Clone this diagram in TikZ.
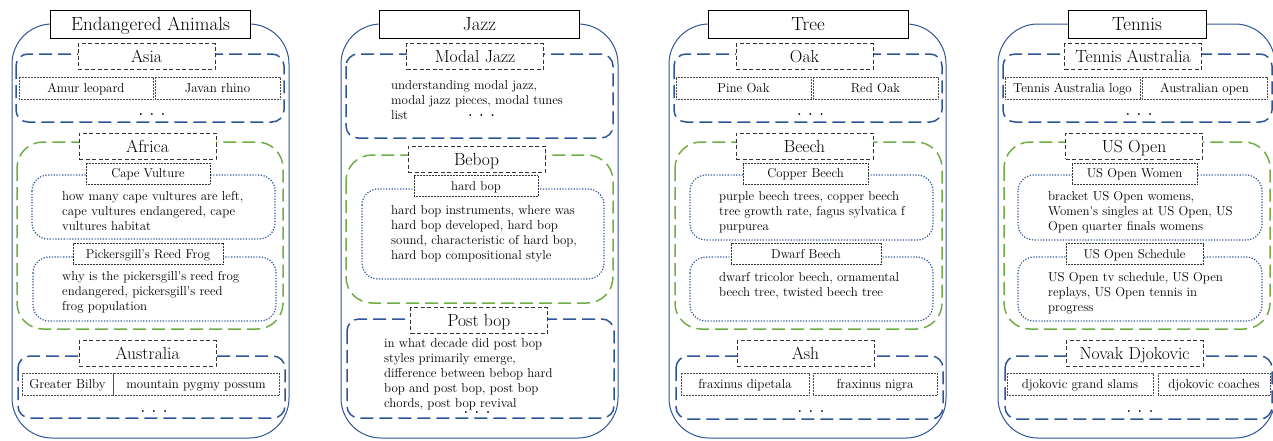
\documentclass[tikz,border=0pt]{standalone}
\usetikzlibrary{positioning}
\definecolor{qblue}{HTML}{2F5597}
\definecolor{qgreen}{HTML}{70AD47}
\newcommand{\moredots}{\textbf{.}\hspace{7pt}\textbf{.}\hspace{7pt}\textbf{.}}

\begin{document}
\begin{tikzpicture}[x=1pt,y=-1pt,
outer/.style={draw=qblue,line width=1pt,rounded corners=40pt},
topic/.style={draw,fill=white,line width=0.9pt,minimum width=200pt,minimum height=28pt,text height=13pt,text depth=0pt,font=\fontsize{19}{22}\selectfont},
grp/.style={draw=qblue,line width=1.5pt,dash pattern=on 13pt off 6pt,rounded corners=12pt},
grpg/.style={draw=qgreen,line width=1.5pt,dash pattern=on 13pt off 6pt,rounded corners=26pt},
lbl/.style={draw=black!80,fill=white,line width=0.8pt,dash pattern=on 4pt off 2.5pt,minimum width=137pt,minimum height=26pt,text height=12pt,text depth=0pt,font=\fontsize{17.5}{20}\selectfont},
sub/.style={draw=qblue,line width=1.2pt,dash pattern=on 1.2pt off 1.6pt,rounded corners=16pt},
sublbl/.style={draw=black!80,fill=white,line width=0.6pt,dash pattern=on 0.6pt off 0.9pt,minimum height=21pt,text height=8.8pt,text depth=0pt,font=\fontsize{12.8}{15}\selectfont},
item/.style={draw=black!70,line width=0.6pt,dash pattern=on 0.6pt off 0.9pt,minimum height=22pt,text height=8.9pt,text depth=0pt,inner sep=0pt,font=\fontsize{13}{15}\selectfont},
txt/.style={anchor=north west,inner sep=0pt,align=left,font=\fontsize{12.9}{15}\selectfont},
more/.style={inner sep=0pt,font=\fontsize{13}{15}\selectfont}]
\useasboundingbox (0,0) rectangle (1273,440);
\clip (0,0) rectangle (1273,440);

% Endangered Animals
\begin{scope}[shift={(12,0)}]
\draw[outer] (0,24) rectangle (277,438);
\node[topic] (animals) at (138.5,24) {Endangered Animals};
\draw[grp] (4,54) rectangle (272,122);
\node[lbl] (asia) at (134.5,56.5) {Asia};
\node[item,minimum width=134pt] (amur) at (74,88) {Amur leopard};
\node[item,minimum width=125pt] (javan) at (205.5,88) {Javan rhino};
\node[more] (asiadots) at (140,115) {\moredots};
\draw[grpg] (5,142) rectangle (271,329);
\node[lbl] (africa) at (135.5,146) {Africa};
\draw[sub] (20,175) rectangle (263,239);
\node[sublbl,minimum width=124pt] (vulture) at (136,173.5) {Cape Vulture};
\node[txt] (vulturetxt) at (50,191) {how many cape vultures are left,\\cape vultures endangered, cape\\vultures habitat};
\draw[sub] (21,257) rectangle (264,321);
\node[sublbl,minimum width=150pt] (frog) at (136,254) {Pickersgill's Reed Frog};
\node[txt] (frogtxt) at (50,271) {why is the pickersgill\textquotesingle s reed frog\\endangered, pickersgill\textquotesingle s reed\\frog population};
\draw[grp] (6,356) rectangle (273,418);
\node[lbl] (austr) at (135.5,353.5) {Australia};
\node[item,minimum width=91pt] (bilby) at (55.5,384) {Greater Bilby};
\node[item,minimum width=166pt] (possum) at (184,384) {mountain pygmy possum};
\node[more] (austrdots) at (142,412) {\moredots};
\end{scope}

% Jazz
\begin{scope}[shift={(341,0)}]
\draw[outer] (0,24) rectangle (277,438);
\node[topic] (jazz) at (138.5,24) {Jazz};
\draw[grp] (5,54) rectangle (272,138);
\node[lbl] (modal) at (134,56.5) {Modal Jazz};
\node[txt] (modaltxt) at (50,80) {understanding modal jazz,\\modal jazz pieces, modal tunes\\list};
\node[more] (modaldots) at (140.5,116) {\moredots};
\draw[grpg] (5,155) rectangle (272,303);
\node[lbl] (bebop) at (135.5,159) {Bebop};
\draw[sub] (21,189) rectangle (263,279);
\node[sublbl,minimum width=124pt] (hardbop) at (135,186) {hard bop};
\node[txt] (hardboptxt) at (50,205) {hard bop instruments, where was\\hard bop developed, hard bop\\sound, characteristic of hard bop,\\hard bop compositional style};
\draw[grp] (6,319) rectangle (273,418);
\node[lbl] (postbop) at (138,320.5) {Post bop};
\node[txt] (postboptxt) at (43,338) {in what decade did post bop\\styles primarily emerge,\\difference between bebop hard\\bop and post bop, post bop\\chords, post bop revival};
\node[more] (postbopdots) at (136,413) {\moredots};
\end{scope}

% Tree
\begin{scope}[shift={(669,0)}]
\draw[outer] (0,24) rectangle (277,438);
\node[topic] (tree) at (139,24) {Tree};
\draw[grp] (5,54) rectangle (273,122);
\node[lbl] (oak) at (135.5,56.5) {Oak};
\node[item,minimum width=135pt] (pine) at (74.5,88) {Pine Oak};
\node[item,minimum width=125pt] (red) at (206.5,88) {Red Oak};
\node[more] (oakdots) at (141.5,115) {\moredots};
\draw[grpg] (6,142) rectangle (273,329);
\node[lbl] (beech) at (135.5,146) {Beech};
\draw[sub] (21,175) rectangle (264,240);
\node[sublbl,minimum width=125pt] (copper) at (136.5,173.5) {Copper Beech};
\node[txt] (coppertxt) at (50,191) {purple beech trees, copper beech\\tree growth rate, fagus sylvatica f\\purpurea};
\draw[sub] (21,257) rectangle (264,321);
\node[sublbl,minimum width=150pt] (dwarf) at (137,254) {Dwarf Beech};
\node[txt] (dwarftxt) at (50,272) {dwarf tricolor beech, ornamental\\beech tree, twisted beech tree};
\draw[grp] (7,356) rectangle (274,419);
\node[lbl] (ash) at (136.5,353.5) {Ash};
\node[item,minimum width=128pt] (dipetala) at (76,384) {fraxinus dipetala};
\node[item,minimum width=124pt] (nigra) at (206,384) {fraxinus nigra};
\node[more] (ashdots) at (142,412) {\moredots};
\end{scope}

% Tennis
\begin{scope}[shift={(998,0)}]
\draw[outer] (0,24) rectangle (277,438);
\node[topic,minimum width=138pt] (tennis) at (139,24) {Tennis};
\draw[grp] (5,54) rectangle (274,122);
\node[lbl] (tenaus) at (135,56.5) {Tennis Australia};
\node[item,minimum width=135pt] (logo) at (74.5,88) {Tennis Australia logo};
\node[item,minimum width=125pt] (ausopen) at (206.5,88) {Australian open};
\node[more] (tenausdots) at (141,115) {\moredots};
\draw[grpg] (6,142) rectangle (272,329);
\node[lbl] (usopen) at (136,146) {US Open};
\draw[sub] (20,175) rectangle (264,240);
\node[sublbl,minimum width=125pt] (women) at (136.5,173.5) {US Open Women};
\node[txt] (womentxt) at (50,191) {bracket US Open womens,\\Women\textquotesingle s singles at US Open, US\\Open quarter finals womens};
\draw[sub] (20,257) rectangle (264,321);
\node[sublbl,minimum width=137pt] (schedule) at (136.5,254) {US Open Schedule};
\node[txt] (scheduletxt) at (50,272) {US Open tv schedule, US Open\\replays, US Open tennis in\\progress};
\draw[grp] (7,356) rectangle (274,419);
\node[lbl] (novak) at (136.5,353.5) {Novak Djokovic};
\node[item,minimum width=146pt] (slams) at (82,384) {djokovic grand slams};
\node[item,minimum width=112pt] (coaches) at (216,384) {djokovic coaches};
\node[more] (novakdots) at (142,412) {\moredots};
\end{scope}
\end{tikzpicture}
\end{document}
